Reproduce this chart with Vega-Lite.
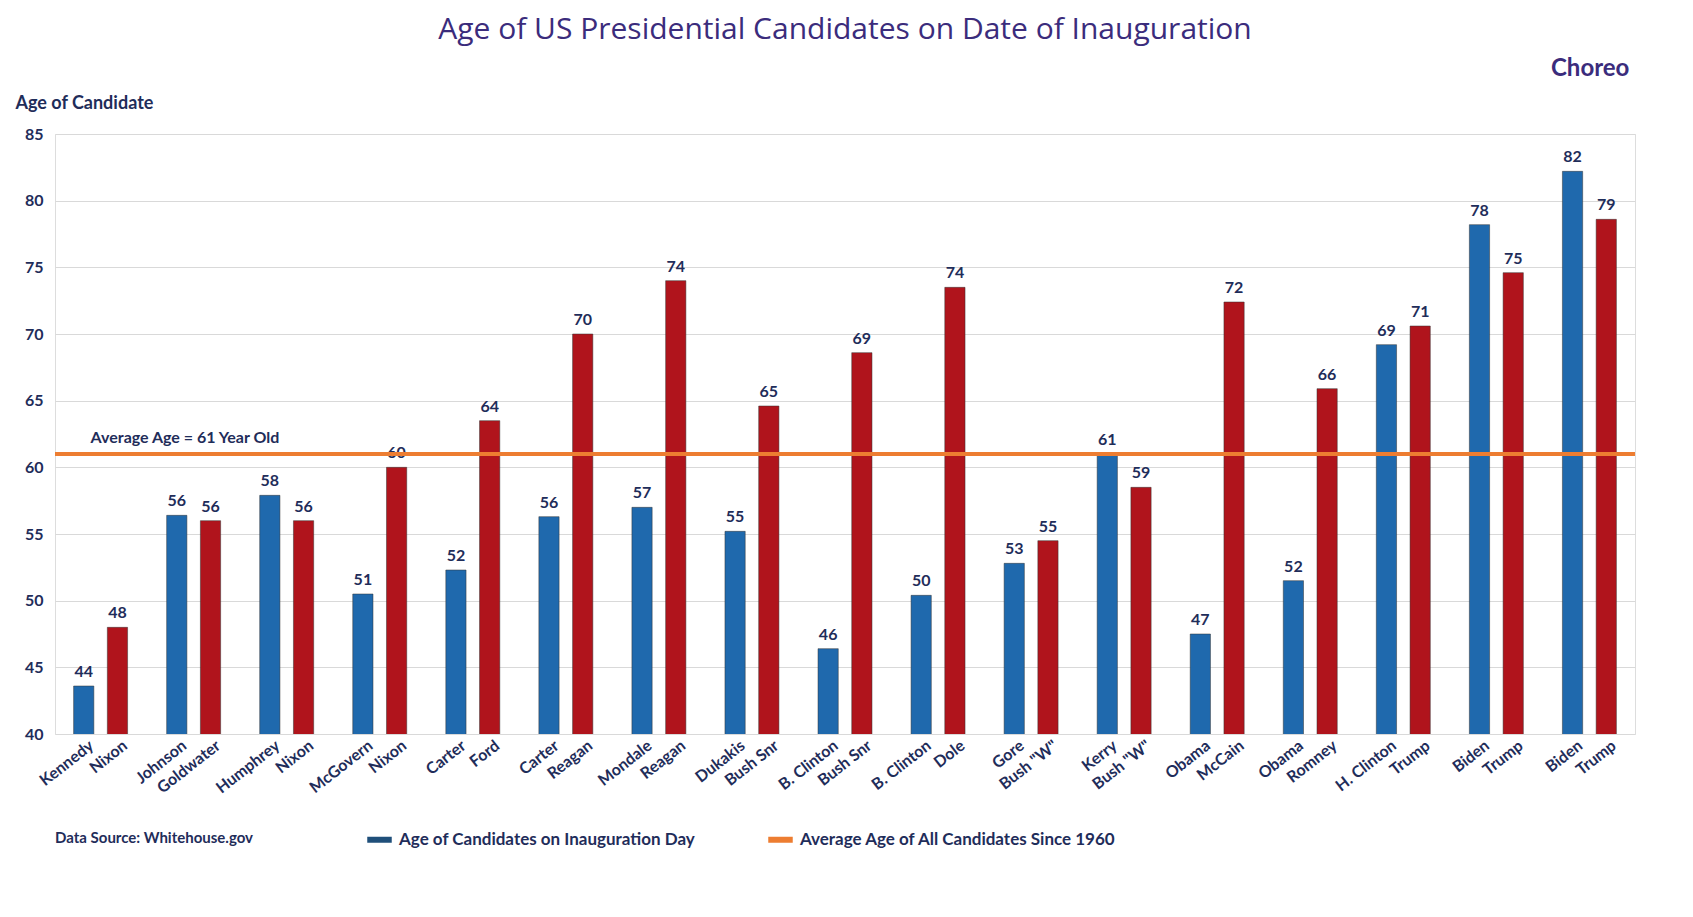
{
"$schema":"https://vega.github.io/schema/vega-lite/v6.json",
"width":1580,"height":600,
"padding":{"left":15,"top":15,"right":20,"bottom":10},
"background":"white",
"title":{"text":"Age of US Presidential Candidates on Date of Inauguration","font":"Open Sans","fontSize":30,"fontWeight":"normal","color":"#3b2c7c","offset":12},
"data":{"values":[
{"g":1,"p":"D","name":"Kennedy","age":43.6,"lab":"44"},{"g":1,"p":"R","name":"Nixon","age":48,"lab":"48"},
{"g":2,"p":"D","name":"Johnson","age":56.4,"lab":"56"},{"g":2,"p":"R","name":"Goldwater","age":56,"lab":"56"},
{"g":3,"p":"D","name":"Humphrey","age":57.9,"lab":"58"},{"g":3,"p":"R","name":"Nixon","age":56,"lab":"56"},
{"g":4,"p":"D","name":"McGovern","age":50.5,"lab":"51"},{"g":4,"p":"R","name":"Nixon","age":60,"lab":"60"},
{"g":5,"p":"D","name":"Carter","age":52.3,"lab":"52"},{"g":5,"p":"R","name":"Ford","age":63.5,"lab":"64"},
{"g":6,"p":"D","name":"Carter","age":56.3,"lab":"56"},{"g":6,"p":"R","name":"Reagan","age":70,"lab":"70"},
{"g":7,"p":"D","name":"Mondale","age":57,"lab":"57"},{"g":7,"p":"R","name":"Reagan","age":74,"lab":"74"},
{"g":8,"p":"D","name":"Dukakis","age":55.2,"lab":"55"},{"g":8,"p":"R","name":"Bush Snr","age":64.6,"lab":"65"},
{"g":9,"p":"D","name":"B. Clinton","age":46.4,"lab":"46"},{"g":9,"p":"R","name":"Bush Snr","age":68.6,"lab":"69"},
{"g":10,"p":"D","name":"B. Clinton","age":50.4,"lab":"50"},{"g":10,"p":"R","name":"Dole","age":73.5,"lab":"74"},
{"g":11,"p":"D","name":"Gore","age":52.8,"lab":"53"},{"g":11,"p":"R","name":"Bush \"W\"","age":54.5,"lab":"55"},
{"g":12,"p":"D","name":"Kerry","age":61,"lab":"61"},{"g":12,"p":"R","name":"Bush \"W\"","age":58.5,"lab":"59"},
{"g":13,"p":"D","name":"Obama","age":47.5,"lab":"47"},{"g":13,"p":"R","name":"McCain","age":72.4,"lab":"72"},
{"g":14,"p":"D","name":"Obama","age":51.5,"lab":"52"},{"g":14,"p":"R","name":"Romney","age":65.9,"lab":"66"},
{"g":15,"p":"D","name":"H. Clinton","age":69.2,"lab":"69"},{"g":15,"p":"R","name":"Trump","age":70.6,"lab":"71"},
{"g":16,"p":"D","name":"Biden","age":78.2,"lab":"78"},{"g":16,"p":"R","name":"Trump","age":74.6,"lab":"75"},
{"g":17,"p":"D","name":"Biden","age":82.2,"lab":"82"},{"g":17,"p":"R","name":"Trump","age":78.6,"lab":"79"}
]},
"encoding":{
 "x":{"field":"g","type":"ordinal","scale":{"paddingInner":0.42,"paddingOuter":0.2},"axis":{"labels":false,"ticks":false,"domain":false,"title":null}},
 "xOffset":{"field":"p","type":"nominal","scale":{"paddingInner":0.4}}
},
"layer":[
 {"mark":{"type":"bar","stroke":"#333","strokeWidth":0.5,"clip":true},
  "encoding":{
   "y":{"field":"age","type":"quantitative","scale":{"domain":[40,85],"zero":false,"nice":false},
     "axis":{"values":[40,45,50,55,60,65,70,75,80,85],"title":"Age of Candidate","titleAngle":0,"titleAlign":"left","titleBaseline":"bottom","titleX":-40,"titleY":-22,"titleFont":"Lato","titleFontSize":18,"titleColor":"#1f2d5a","labelFont":"Lato","labelFontSize":16,"labelFontWeight":"bold","labelColor":"#1f2d5a","ticks":false,"domain":false,"gridColor":"#d9d9d9","labelPadding":12}},
   "fill":{"field":"p","type":"nominal","scale":{"domain":["D","R"],"range":["#1f69ad","#b0141c"]},"legend":null}}},
 {"mark":{"type":"text","dy":-14,"font":"Lato","fontSize":16,"fontWeight":"bold","color":"#1f2d5a"},
  "encoding":{"y":{"field":"age","type":"quantitative"},"text":{"field":"lab"}}},
 {"mark":{"type":"text","angle":-38,"align":"right","baseline":"middle","dx":10,"font":"Lato","fontSize":16,"fontWeight":"bold","color":"#1f2d5a"},
  "encoding":{"y":{"datum":38.8},"text":{"field":"name"}}},
 {"data":{"values":[{"s":"Age of Candidates on Inauguration Day","v":61},{"s":"Average Age of All Candidates Since 1960","v":61}]},
  "mark":{"type":"rule","strokeWidth":4},
  "encoding":{"x":null,"xOffset":null,"y":{"field":"v","type":"quantitative"},
   "stroke":{"field":"s","type":"nominal","scale":{"range":["#1f4f7a","#ed7d31"]},
    "legend":{"orient":"bottom","direction":"horizontal","title":"Data Source: Whitehouse.gov","titleOrient":"left","titleFont":"Lato","titleFontSize":15,"titleColor":"#1f2d5a","titleLimit":400,"titlePadding":110,"labelLimit":500,"labelFont":"Lato","labelFontSize":17,"labelFontWeight":"bold","labelColor":"#1f2d5a","symbolType":"stroke","symbolStrokeWidth":6,"symbolSize":600,"columnPadding":60,"offset":90}}}},
 {"data":{"values":[{"g":1,"t":"Average Age = 61 Year Old"}]},
  "mark":{"type":"text","align":"left","dy":-16,"dx":-10,"font":"Lato","fontSize":16,"fontWeight":"bold","color":"#1f2d5a"},
  "encoding":{"xOffset":null,"y":{"datum":61},"text":{"field":"t"}}},
 {"data":{"values":[{"g":17,"t":"Choreo"}]},
  "mark":{"type":"text","align":"right","dy":-65,"dx":40,"font":"Lato","fontSize":24,"fontWeight":"bold","color":"#3b2c7c"},
  "encoding":{"xOffset":null,"y":{"datum":85},"text":{"field":"t"}}}
]
}
